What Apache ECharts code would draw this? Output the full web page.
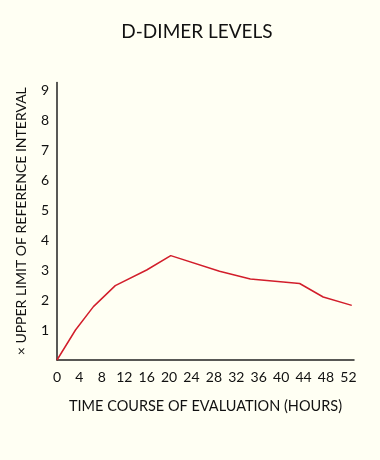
<!DOCTYPE html>
<html>
<head>
<meta charset="utf-8">
<script src="https://cdn.jsdelivr.net/npm/echarts@6/dist/echarts.min.js"></script>
<style>
html,body{margin:0;padding:0;background:#FFFFF3;}
#c{width:380px;height:460px;}
</style>
</head>
<body>
<div id="c"></div>
<script>
var titleText = 'D-DIMER LEVELS';
var xName = 'TIME COURSE OF EVALUATION (HOURS)';
var yName = '× UPPER LIMIT OF REFERENCE INTERVAL';
var hours = [0, 3.3, 6.5, 10.4, 16, 20.3, 29, 34.5, 43.3, 47.5, 52.6];
var dimer = [0, 1.0, 1.78, 2.48, 3.0, 3.48, 2.96, 2.7, 2.55, 2.1, 1.82];
var xTicks = [0, 4, 8, 12, 16, 20, 24, 28, 32, 36, 40, 44, 48, 52];
var yTicks = [1, 2, 3, 4, 5, 6, 7, 8, 9];

var font = 'Lato';
var chart = echarts.init(document.getElementById('c'));
chart.setOption({
  backgroundColor: '#FFFFF3',
  animation: false,
  title: {
    text: titleText, left: 192, top: 17, textAlign: 'center',
    textStyle: {fontFamily: font, fontSize: 19, fontWeight: 'normal', color: '#111'}
  },
  grid: {left: 57, right: 26, top: 82.5, bottom: 100, containLabel: false},
  xAxis: {
    type: 'value', min: 0, max: 53, interval: 4,
    name: xName, nameLocation: 'middle', nameGap: 39,
    nameTextStyle: {fontFamily: font, fontSize: 14.5, color: '#111'},
    axisLine: {lineStyle: {color: '#222', width: 1.5}},
    axisTick: {show: false},
    splitLine: {show: false},
    axisLabel: {fontFamily: font, fontSize: 14, color: '#111', margin: 10,
      formatter: function (v) { return xTicks.indexOf(v) >= 0 ? String(v) : ''; }}
  },
  yAxis: {
    type: 'value', min: 0, max: 9.25, interval: 1,
    name: yName, nameLocation: 'middle', nameGap: 29, nameRotate: 90,
    nameTextStyle: {fontFamily: font, fontSize: 14, color: '#111'},
    axisLine: {show: true, lineStyle: {color: '#222', width: 1.5}},
    axisTick: {show: false},
    splitLine: {show: false},
    axisLabel: {fontFamily: font, fontSize: 14, color: '#111', margin: 8, showMaxLabel: false,
      formatter: function (v) { return yTicks.indexOf(v) >= 0 ? String(v) : ''; }}
  },
  series: [{
    type: 'line',
    data: hours.map(function (h, i) { return [h, dimer[i]]; }),
    symbol: 'none',
    lineStyle: {color: '#D21E2B', width: 1.5}
  }]
});
</script>
</body>
</html>
